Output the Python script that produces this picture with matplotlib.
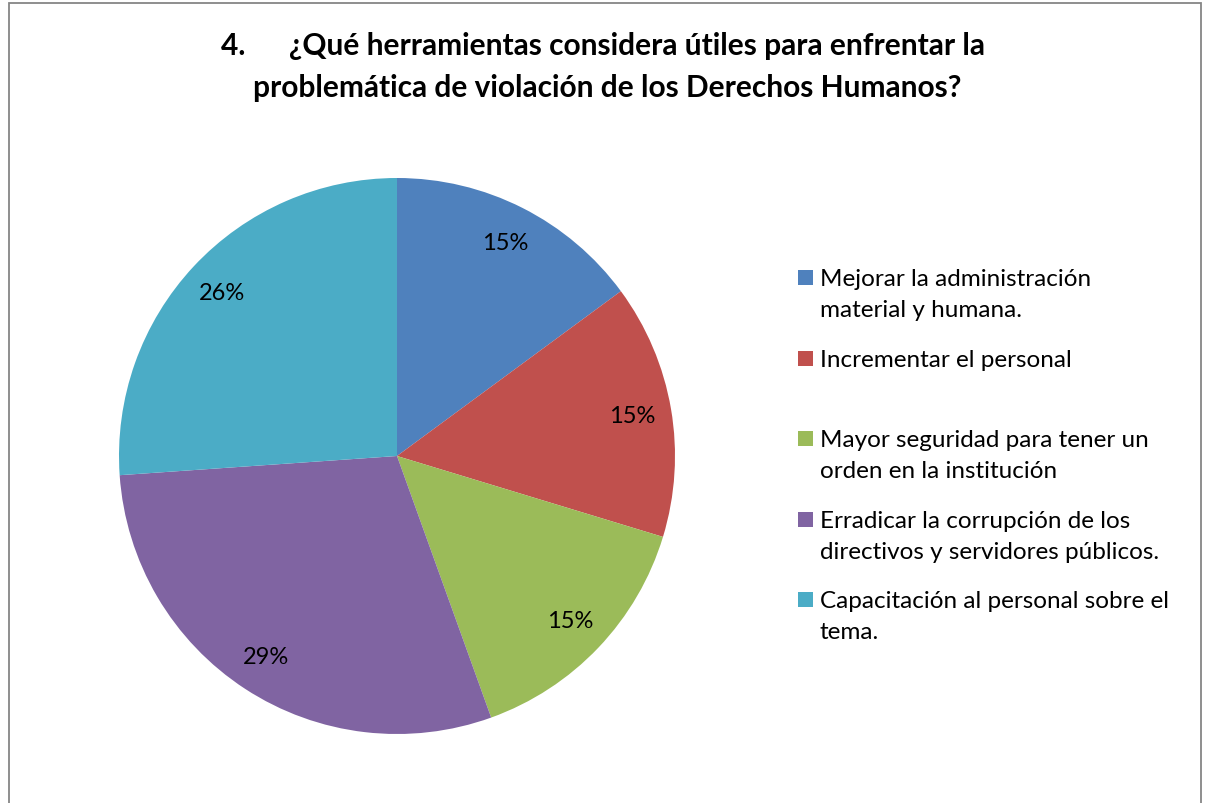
import matplotlib.pyplot as plt
from matplotlib.patches import Rectangle

# ---------------------------
# Data
# ---------------------------
categories = [
    "Mejorar la administración\nmaterial y humana.",
    "Incrementar el personal",
    "Mayor seguridad para tener un\norden en la institución",
    "Erradicar la corrupción de los\ndirectivos y servidores públicos.",
    "Capacitación al personal sobre el\ntema.",
]
shares = [14.9, 14.8, 14.8, 29.4, 26.1]  # percent
colors = ["#4F81BD", "#C0504D", "#9BBB59", "#8064A2", "#4BACC6"]

title_line1 = "4.      ¿Qué herramientas considera útiles para enfrentar la"
title_line2 = "problemática de violación de los Derechos Humanos?"

plt.rcParams['font.family'] = ['Lato', 'DejaVu Sans']

W, H = 1209, 804
fig = plt.figure(figsize=(W / 100, H / 100), dpi=100)

def fx(px):
    return px / W

def fy(py):
    return 1 - py / H

# chart border
fig.add_artist(Rectangle((fx(9), fy(820)), fx(1201) - fx(9), fy(4) - fy(820),
                         transform=fig.transFigure, fill=False,
                         edgecolor="#868686", linewidth=1.3))

# title
fig.text(fx(603), fy(46), title_line1, ha="center", va="center",
         fontsize=21.5, fontweight="bold")
fig.text(fx(607), fy(88), title_line2, ha="center", va="center",
         fontsize=21.5, fontweight="bold")

# ---------------------------
# Pie
# ---------------------------
cx, cy, r = 397, 457, 278
ax = fig.add_axes([fx(cx - r), fy(cy + r), 2 * r / W, 2 * r / H])
ax.pie(shares, colors=colors, startangle=90, counterclock=False,
       autopct="%1.0f%%", pctdistance=0.86, radius=1,
       wedgeprops=dict(linewidth=0),
       textprops=dict(fontsize=17, color="black"))
ax.set_xlim(-1, 1)
ax.set_ylim(-1, 1)
ax.axis("off")

# ---------------------------
# Legend (Excel-style, first line aligned with marker)
# ---------------------------
legend_y = [279, 360, 440, 521, 601]
for label, col, ly in zip(categories, colors, legend_y):
    fig.add_artist(Rectangle((fx(798), fy(ly + 7)), 15 / W, 15 / H,
                             transform=fig.transFigure, facecolor=col,
                             edgecolor="none"))
    fig.text(fx(820), fy(ly - 10), label, ha="left", va="top",
             fontsize=17.5, linespacing=1.6)

fig.savefig("out.png", dpi=100)
